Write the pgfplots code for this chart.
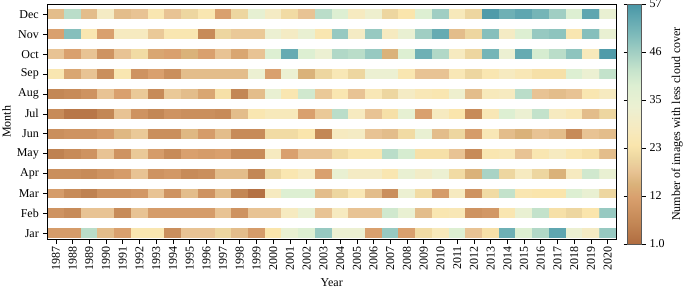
\documentclass[border=0pt]{standalone}
\usepackage{fontspec}
\setmainfont{Liberation Serif}
\usepackage{pgfplots}
\pgfplotsset{compat=1.18}
\pgfplotsset{colormap={cc}{
rgb255(1)=(176,108,64)
rgb255(6)=(195,135,85)
rgb255(12)=(217,160,110)
rgb255(15)=(218,178,122)
rgb255(18)=(232,195,148)
rgb255(21)=(237,214,160)
rgb255(24)=(250,229,172)
rgb255(28)=(246,234,192)
rgb255(33)=(236,240,210)
rgb255(38)=(221,239,210)
rgb255(42)=(195,226,203)
rgb255(46)=(160,206,195)
rgb255(50)=(125,186,186)
rgb255(54)=(95,166,176)
rgb255(57)=(72,150,166)
}}
\begin{document}
\fontsize{12}{14}\selectfont
\begin{tikzpicture}
\useasboundingbox (0pt,0pt) rectangle (685pt,290pt);
\begin{axis}[
  at={(47.5pt,50.5pt)}, anchor=south west,
  scale only axis, width=568.5pt, height=235.5pt,
  xmin=-0.5, xmax=33.5, ymin=-0.31, ymax=11.52,
  axis on top,
  colormap name=cc, point meta min=1, point meta max=57,
  xtick={0,...,33},
  xticklabels={1987,1988,1989,1990,1991,1992,1993,1994,1995,1996,1997,1998,1999,2000,2001,2002,2003,2004,2005,2006,2007,2008,2009,2010,2011,2012,2013,2014,2015,2016,2017,2018,2019,2020},
  ytick={0,...,11},
  yticklabels={Jar,Feb,Mar,Apr,May,Jun,Jul,Aug,Sep,Oct,Nov,Dec},
  tick pos=left, tick align=outside, major tick length=4.5pt,
  xticklabel style={rotate=90, anchor=east, inner sep=2pt},
  xlabel={Year}, ylabel={Month},
  xlabel style={at={(axis description cs:0.5,-0.185)}, anchor=center},
  ylabel style={at={(axis description cs:-0.072,0.5)}, anchor=center},
  axis line style={line width=0.8pt},
  tick style={black, line width=0.6pt},
  colorbar right,
  colorbar style={
    scale only axis,
    at={(parent axis.north east)}, anchor=north west, xshift=3pt,
    width=14pt, height=240pt,
    ytick={1,12.2,23.4,34.6,45.8,57}, yticklabels={1.0,12,23,35,46,57},
    tick align=outside, major tick length=4pt,
    ylabel={Number of images with less cloud cover},
    ylabel style={at={(axis description cs:3.55,0.5)}, anchor=center},
    axis line style={gray!70!black, line width=0.6pt},
  },
]
\addplot[matrix plot*, mesh/cols=34, point meta=explicit]
 table[row sep=\\, header=false, x expr={\coordindex-34*int((\coordindex+0.5)/34)}, y expr={int((\coordindex+0.5)/34)}, meta index=0] {
11\\11\\43\\17\\12\\25\\25\\8\\18\\18\\21\\17\\11\\24\\34\\38\\47\\33\\33\\12\\47\\12\\22\\27\\38\\18\\23\\52\\38\\44\\54\\33\\29\\47\\
9\\7\\18\\18\\7\\18\\11\\11\\11\\11\\18\\9\\18\\18\\28\\34\\18\\28\\18\\18\\40\\34\\17\\25\\26\\9\\10\\25\\34\\42\\23\\21\\24\\47\\
11\\7\\5\\9\\9\\10\\18\\9\\17\\9\\17\\6\\2\\28\\38\\38\\17\\21\\26\\17\\8\\33\\22\\11\\28\\9\\22\\42\\25\\24\\24\\38\\34\\21\\
8\\8\\7\\9\\11\\18\\9\\10\\7\\8\\17\\17\\6\\21\\25\\28\\12\\34\\29\\29\\25\\34\\30\\33\\22\\15\\45\\21\\28\\21\\15\\28\\40\\34\\
5\\7\\9\\18\\9\\19\\11\\7\\12\\11\\12\\7\\7\\28\\12\\18\\18\\22\\25\\25\\43\\39\\23\\23\\18\\7\\25\\26\\18\\25\\28\\25\\23\\17\\
8\\9\\9\\11\\16\\19\\8\\8\\16\\11\\17\\7\\7\\22\\22\\24\\6\\28\\29\\18\\17\\22\\34\\17\\21\\11\\26\\17\\15\\18\\17\\7\\18\\17\\
7\\3\\3\\6\\18\\9\\6\\9\\8\\8\\7\\17\\25\\27\\27\\12\\19\\43\\28\\18\\23\\35\\12\\28\\24\\7\\26\\38\\33\\42\\28\\26\\17\\21\\
6\\7\\9\\18\\12\\19\\7\\19\\17\\13\\23\\6\\17\\34\\25\\40\\19\\25\\18\\26\\21\\29\\26\\25\\32\\17\\27\\28\\43\\18\\17\\18\\25\\28\\
25\\13\\18\\8\\25\\9\\12\\8\\17\\17\\17\\17\\33\\12\\33\\15\\21\\26\\21\\33\\33\\25\\18\\18\\26\\21\\25\\28\\26\\23\\23\\38\\33\\42\\
18\\12\\18\\9\\18\\22\\13\\12\\15\\12\\18\\13\\18\\38\\53\\38\\33\\44\\43\\47\\15\\38\\52\\44\\28\\21\\51\\33\\53\\39\\43\\48\\27\\56\\
12\\49\\25\\12\\28\\28\\19\\25\\25\\7\\21\\19\\19\\33\\29\\34\\25\\47\\29\\47\\28\\34\\46\\53\\17\\21\\49\\29\\38\\47\\48\\25\\49\\34\\
17\\43\\17\\29\\17\\18\\25\\18\\21\\25\\12\\21\\35\\29\\22\\18\\43\\38\\28\\32\\21\\24\\38\\46\\27\\21\\56\\52\\54\\51\\46\\38\\54\\34\\
};
\fill[white] (axis cs:-0.5,-0.31) rectangle (axis cs:33.5,-0.25);
\fill[white] (axis cs:-0.5,0.25) rectangle (axis cs:33.5,0.75);
\fill[white] (axis cs:-0.5,1.25) rectangle (axis cs:33.5,1.75);
\fill[white] (axis cs:-0.5,2.25) rectangle (axis cs:33.5,2.75);
\fill[white] (axis cs:-0.5,3.25) rectangle (axis cs:33.5,3.75);
\fill[white] (axis cs:-0.5,4.25) rectangle (axis cs:33.5,4.75);
\fill[white] (axis cs:-0.5,5.25) rectangle (axis cs:33.5,5.75);
\fill[white] (axis cs:-0.5,6.25) rectangle (axis cs:33.5,6.75);
\fill[white] (axis cs:-0.5,7.25) rectangle (axis cs:33.5,7.75);
\fill[white] (axis cs:-0.5,8.25) rectangle (axis cs:33.5,8.75);
\fill[white] (axis cs:-0.5,9.25) rectangle (axis cs:33.5,9.75);
\fill[white] (axis cs:-0.5,10.25) rectangle (axis cs:33.5,10.75);
\fill[white] (axis cs:-0.5,11.25) rectangle (axis cs:33.5,11.6);
\end{axis}
\end{tikzpicture}
\end{document}
